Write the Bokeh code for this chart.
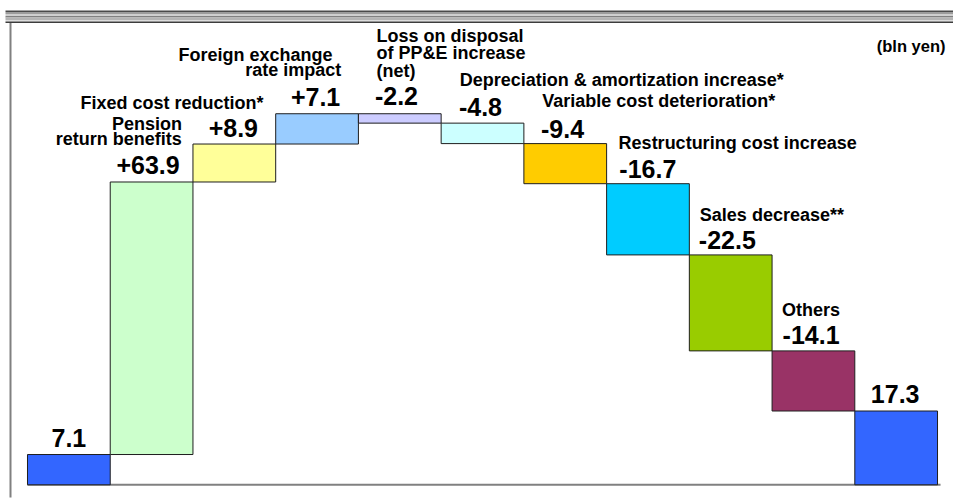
from bokeh.plotting import figure
from bokeh.models import ColumnDataSource, Range1d
from bokeh.core.properties import value
from bokeh.embed import file_html
from bokeh.resources import INLINE

# ---- data (bln yen) ----
start_value = 7.1
end_value = 17.3
step_values = [63.9, 8.9, 7.1, -2.2, -4.8, -9.4, -16.7, -22.5, -14.1]
step_names = [
    ["Pension", "return benefits"],
    ["Fixed cost reduction*"],
    ["Foreign exchange", "rate impact"],
    ["Loss on disposal", "of PP&E increase", "(net)"],
    ["Depreciation & amortization increase*"],
    ["Variable cost deterioration*"],
    ["Restructuring cost increase"],
    ["Sales decrease**"],
    ["Others"],
]
unit_text = "(bln yen)"

# ---- styling ----
total_color = "#3366FF"
step_colors = ["#CCFFCC", "#FFFF99", "#99CCFF", "#CCCCFF", "#CCFFFF",
               "#FFCC00", "#00CCFF", "#99CC00", "#993366"]
FONT = value("Liberation Sans")
W, H = 953, 498
VALUE_SIZE, NAME_SIZE, UNIT_SIZE = 25, 18, 16.5
BASELINE_FIX = 0.36     # lift text so that its baseline lands on the anchor

# pixel geometry of the drawing area
BAR_PX = 82.73          # width of one category slot
LEFT_PX = 27.0          # left edge of first bar
BASE_PX = 484.3         # y pixel of the zero line
UNIT_PX = 4.265         # pixels per bln yen

x_start = -0.5 - LEFT_PX / BAR_PX
x_end = -0.5 + (W - LEFT_PX) / BAR_PX
y_start = -(H - BASE_PX) / UNIT_PX
y_end = BASE_PX / UNIT_PX


def px_x(px):
    return x_start + px / BAR_PX


def px_y(py):
    return y_end - py / UNIT_PX


# ---- waterfall geometry ----
n = len(step_values) + 2
bottoms, tops, colors, labels = [], [], [], []
bottoms.append(0.0); tops.append(start_value); colors.append(total_color)
labels.append(f"{start_value:.1f}")
level = start_value
for v, c in zip(step_values, step_colors):
    new = round(level + v, 1)
    bottoms.append(min(level, new)); tops.append(max(level, new))
    colors.append(c)
    labels.append(f"{v:+.1f}")
    level = new
bottoms.append(0.0); tops.append(end_value); colors.append(total_color)
labels.append(f"{end_value:.1f}")
xs = list(range(n))

p = figure(width=W, height=H, output_backend="svg", toolbar_location=None,
           x_range=Range1d(x_start, x_end), y_range=Range1d(y_start, y_end),
           x_axis_location=None, y_axis_location=None, min_border=0,
           outline_line_color=None, background_fill_color="white",
           border_fill_color="white")
p.xgrid.visible = False
p.ygrid.visible = False

# frame: striped band on top, rule on the left
band = [(10.0, 11.5, "#4a4a4a"), (11.5, 13.5, "#9c9c9c"), (13.5, 15.5, "#cfcfcf"),
        (15.5, 17.0, "#808080"), (17.0, 19.5, "#b4b4b4"), (19.5, 21.0, "#dcdcdc"),
        (21.0, 22.5, "#3c3c3c")]
for t, b, c in band:
    p.quad(left=px_x(5), right=px_x(W), top=px_y(t), bottom=px_y(b),
           fill_color=c, line_color=None)
p.segment(x0=px_x(10), y0=px_y(22.5), x1=px_x(10), y1=px_y(497),
          line_color="#808080", line_width=2)

# zero line
p.segment(x0=-0.5, y0=0, x1=n - 0.5 + 3 / BAR_PX, y1=0,
          line_color="#808080", line_width=2)

src = ColumnDataSource(dict(x=xs, bottom=bottoms, top=tops, color=colors))
p.vbar(x="x", width=1.0, bottom="bottom", top="top", source=src,
       fill_color="color", line_color="#1e1e1e", line_width=1)

# value labels: (align, dx, dy) relative to bar top; dx from centre or left edge
value_layout = [("center", 0, -7.6), ("center", -3.5, -7.7), ("center", -1, -7.3),
                ("center", -1.5, -8), ("left", 16.5, -8.7), ("left", 17.8, -7),
                ("left", 17.1, -6), ("left", 12.7, -5.6), ("left", 9.5, -5.7),
                ("left", 10.5, -6.7), ("center", -1, -8.3)]
vx, vy, vt, va, vdx, vdy = [], [], [], [], [], []
for i, (al, dx, dy) in enumerate(value_layout):
    vx.append(i if al == "center" else i - 0.5)
    vy.append(tops[i]); vt.append(labels[i]); va.append(al)
    vdx.append(dx); vdy.append(dy - BASELINE_FIX * VALUE_SIZE)
p.text(x="x", y="y", text="t", text_align="a", x_offset="dx", y_offset="dy",
       source=ColumnDataSource(dict(x=vx, y=vy, t=vt, a=va, dx=vdx, dy=vdy)),
       text_font=FONT, text_font_style="bold", text_font_size=f"{VALUE_SIZE}px",
       text_baseline="alphabetic", text_color="black")

# category names: per line (align, dx from bar left edge, dy from bar top)
name_layout = [
    [("right", 71.8, -51.7), ("right", 71.5, -36.2)],
    [("right", 70.5, -34.3)],
    [("right", 56.8, -52.3), ("right", 65.5, -37.3)],
    [("left", 18, -71.7), ("left", 18, -54.4), ("left", 18, -36.7)],
    [("left", 18.6, -37)],
    [("left", 18.3, -36)],
    [("left", 12, -34.3)],
    [("left", 10.5, -33.3)],
    [("left", 10, -34.3)],
]
cx, cy, ct, ca, cdx, cdy = [], [], [], [], [], []
for k, (lines, lay) in enumerate(zip(step_names, name_layout)):
    i = k + 1
    for line, (al, dx, dy) in zip(lines, lay):
        cx.append(i - 0.5); cy.append(tops[i]); ct.append(line)
        ca.append(al); cdx.append(dx); cdy.append(dy - BASELINE_FIX * NAME_SIZE)
p.text(x="x", y="y", text="t", text_align="a", x_offset="dx", y_offset="dy",
       source=ColumnDataSource(dict(x=cx, y=cy, t=ct, a=ca, dx=cdx, dy=cdy)),
       text_font=FONT, text_font_style="bold", text_font_size=f"{NAME_SIZE}px",
       text_baseline="alphabetic", text_color="black")

# unit note
p.text(x=[px_x(945)], y=[px_y(51 - BASELINE_FIX * UNIT_SIZE)], text=[unit_text],
       text_align="right", text_font=FONT, text_font_style="bold",
       text_font_size=f"{UNIT_SIZE}px", text_baseline="alphabetic",
       text_color="black")

open("out.html", "w").write(file_html(p, INLINE))
